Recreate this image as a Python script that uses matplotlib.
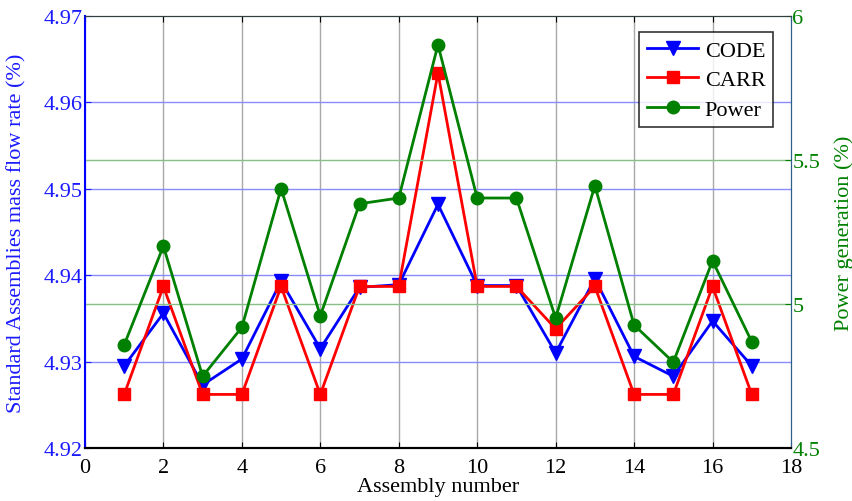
import matplotlib
matplotlib.use("Agg")
import matplotlib.pyplot as plt

plt.rcParams['font.family'] = ['Liberation Serif', 'DejaVu Serif']

assembly = list(range(1, 18))
code = [4.9295, 4.9356, 4.9273, 4.9303, 4.9393, 4.9315, 4.9386, 4.9389, 4.9482,
        4.9388, 4.9388, 4.9310, 4.9396, 4.9306, 4.9283, 4.9347, 4.9295]
carr = [4.9262, 4.9387, 4.9262, 4.9262, 4.9387, 4.9262, 4.9387, 4.9387, 4.9634,
        4.9387, 4.9387, 4.9338, 4.9387, 4.9262, 4.9262, 4.9387, 4.9262]
power = [4.858, 5.201, 4.749, 4.919, 5.401, 4.959, 5.348, 5.368, 5.900,
         5.368, 5.368, 4.951, 5.411, 4.927, 4.798, 5.150, 4.869]

left_ticks = [4.92, 4.93, 4.94, 4.95, 4.96, 4.97]
right_ticks = [4.5, 5, 5.5, 6]
x_ticks = [0, 2, 4, 6, 8, 10, 12, 14, 16, 18]

fig = plt.figure(figsize=(8.53, 5.02), dpi=100)
ax = fig.add_axes([0.0996, 0.1056, 0.8277, 0.8605])
ax2 = ax.twinx()

# vertical grid and left (blue) horizontal grid
for xv in x_ticks[1:-1]:
    ax.axvline(xv, color='#a8a8a8', lw=1.0, zorder=0)
for yv in left_ticks[1:-1]:
    ax.axhline(yv, color='#8a8aff', lw=1.0, zorder=0)
# right (green) horizontal grid
for yv in right_ticks[1:-1]:
    ax2.axhline(yv, color='#86c086', lw=1.0, zorder=0)

l1, = ax.plot(assembly, code, color='blue', lw=2, marker='v', ms=10, label='CODE', zorder=3)
l2, = ax.plot(assembly, carr, color='red', lw=2, marker='s', ms=9, label='CARR', zorder=4)
l3, = ax2.plot(assembly, power, color='green', lw=2, marker='o', ms=9, label='Power', zorder=3)

ax.set_xlim(0, 18)
ax.set_ylim(4.92, 4.97)
ax2.set_ylim(4.5, 6)
ax.set_xticks(x_ticks)
ax.set_yticks(left_ticks)
ax.set_yticklabels([f'{v:.2f}' for v in left_ticks])
ax2.set_yticks(right_ticks)
ax2.set_yticklabels(['4.5', '5', '5.5', '6'])

fs = 16
ax.tick_params(axis='x', direction='in', length=4, labelsize=fs, colors='black', top=True, pad=7)
ax.tick_params(axis='y', direction='in', length=4, labelsize=fs, colors='#1a1aff', pad=2)
ax2.tick_params(axis='y', direction='in', length=4, labelsize=fs, colors='green', pad=1)

ax.set_xlabel('Assembly number', fontsize=fs, labelpad=0)
ax.set_ylabel('Standard Assemblies mass flow rate (%)', fontsize=fs, color='#1a1aff')
ax.yaxis.set_label_coords(-0.083, 0.5)
ax2.set_ylabel('Power generation (%)', fontsize=fs, color='green', labelpad=10)

for a in (ax, ax2):
    a.spines['bottom'].set_color('black')
    a.spines['bottom'].set_linewidth(1.5)
    a.spines['top'].set_color('#304040')
    a.spines['left'].set_color('blue')
    a.spines['right'].set_color('#2e5f8a')
ax.spines['left'].set_linewidth(1.5)

leg = ax2.legend(handles=[l1, l2, l3], loc='upper right', bbox_to_anchor=(0.975, 0.962),
                 fontsize=fs, frameon=True, fancybox=False, edgecolor='black',
                 handlelength=2.3, borderpad=0.35, labelspacing=0.4, handletextpad=0.3,
                 borderaxespad=0.0)
leg.get_frame().set_linewidth(1.2)

fig.savefig('out.png', dpi=100)
